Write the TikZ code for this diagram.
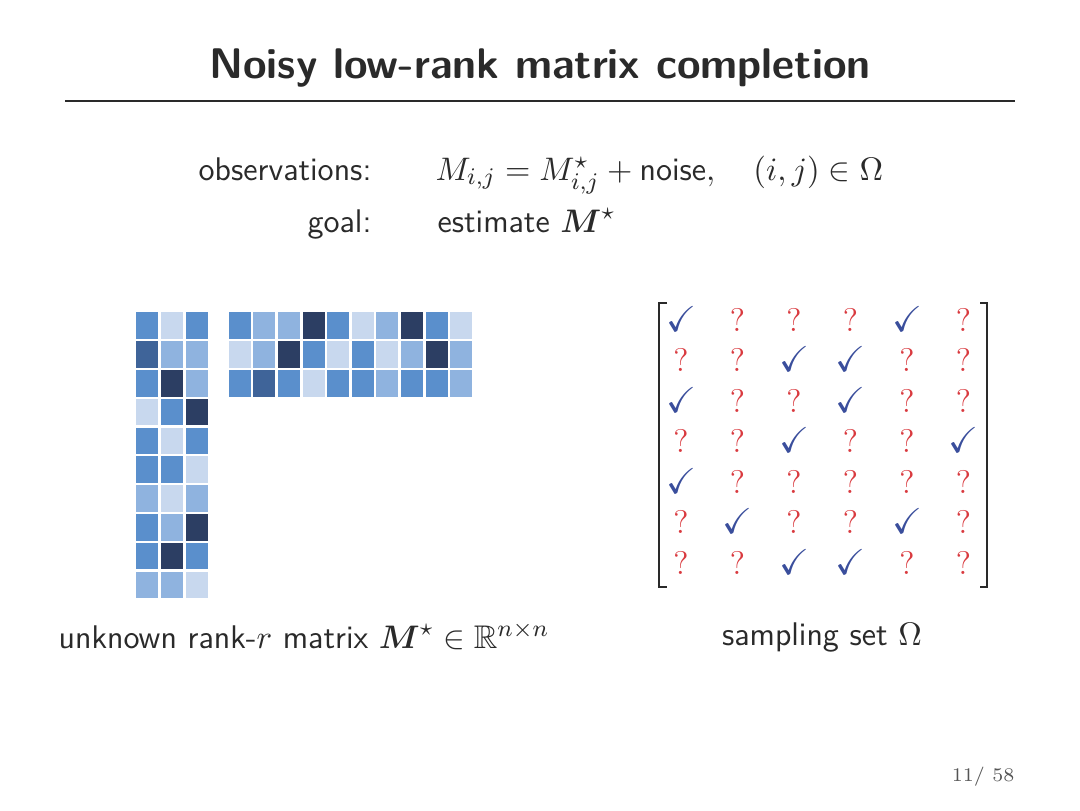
\documentclass[tikz,border=0pt]{standalone}
\usepackage{amsmath,amssymb}
\definecolor{cD}{HTML}{2C3E63}
\definecolor{cN}{HTML}{3F6499}
\definecolor{cM}{HTML}{5A8FCC}
\definecolor{cL}{HTML}{8FB3DF}
\definecolor{cV}{HTML}{C8D8EE}
\definecolor{chk}{HTML}{3A4E9C}
\definecolor{qm}{HTML}{D93A3F}
\definecolor{txt}{HTML}{2A2A2A}
\newcommand{\Cmk}{\textcolor{chk}{\scalebox{1.1}{$\checkmark$}}}
\newcommand{\Qmk}{\textcolor{qm}{\rmfamily ?}}
\tikzset{
  body/.style={font=\fontsize{11}{13}\selectfont\sffamily, text=txt, inner sep=0pt},
  cellmark/.style={font=\fontsize{11}{13}\selectfont, inner sep=0pt, anchor=base},
  bracket/.style={draw=txt, line width=0.75pt},
  rule/.style={draw=txt, line width=0.4pt}
}
\begin{document}
\begin{tikzpicture}[x=0.3359pt, y=-0.3359pt]
\useasboundingbox (0,0) rectangle (1080,810);
% title
\node[body, font=\fontsize{14.4}{17}\selectfont\sffamily\bfseries] (title) at (540,68) {Noisy low-rank matrix completion};
\coordinate (ruleL) at (65,101);
\coordinate (ruleR) at (1015,101);
\draw[rule] (ruleL) -- (ruleR);
% text lines
\node[body, anchor=base east] (obs) at (372,180) {observations:};
\node[body, anchor=base west] (obsm) at (435,180) {$M_{i,j} = M^\star_{i,j} + \text{noise}, \quad (i,j)\in\Omega$};
\node[body, anchor=base east] (goal) at (372,232) {goal:};
\node[body, anchor=base west] (goalm) at (437,232) {estimate $\boldsymbol{M}^\star$};
% left tall factor
\foreach \row [count=\r from 0] in {{cM,cV,cM},{cN,cL,cL},{cM,cD,cL},{cV,cM,cD},{cM,cV,cM},{cM,cM,cV},{cL,cV,cL},{cM,cL,cD},{cM,cD,cM},{cL,cL,cV}}{
  \foreach \col [count=\k from 0] in \row {
    \fill[\col] (136+\k*25, 312.3+\r*28.8) rectangle ++(22,26.7);
  }
}
% top wide factor
\foreach \row [count=\r from 0] in {{cM,cL,cL,cD,cM,cV,cL,cD,cM,cV},{cV,cL,cD,cM,cV,cM,cV,cL,cD,cL},{cM,cN,cM,cV,cM,cM,cL,cM,cM,cL}}{
  \foreach \col [count=\k from 0] in \row {
    \fill[\col] (228.7+\k*24.6, 312.3+\r*28.8) rectangle ++(22,26.7);
  }
}
% sampling set
\foreach \row [count=\r from 0] in {{\Cmk,\Qmk,\Qmk,\Qmk,\Cmk,\Qmk},{\Qmk,\Qmk,\Cmk,\Cmk,\Qmk,\Qmk},{\Cmk,\Qmk,\Qmk,\Cmk,\Qmk,\Qmk},{\Qmk,\Qmk,\Cmk,\Qmk,\Qmk,\Cmk},{\Cmk,\Qmk,\Qmk,\Qmk,\Qmk,\Qmk},{\Qmk,\Cmk,\Qmk,\Qmk,\Cmk,\Qmk},{\Qmk,\Qmk,\Cmk,\Cmk,\Qmk,\Qmk}}{
  \foreach \s [count=\k from 0] in \row {
    \node[cellmark] (s\r\k) at (681+\k*56.5, 331+\r*40.5) {\s};
  }
}
\draw[bracket] (667,303) -- (659,303) -- (659,587) -- (667,587);
\draw[bracket] (980,303) -- (987,303) -- (987,587) -- (980,587);
% captions
\node[body, anchor=base] (capL) at (304,648) {unknown rank-$r$ matrix $\boldsymbol{M}^\star\in\mathbb{R}^{n\times n}$};
\node[body, anchor=base] (capR) at (822,645) {sampling set $\Omega$};
% page number
\node[body, font=\fontsize{6.5}{8}\selectfont\rmfamily, anchor=base east, text=txt!80] (page) at (1015,781) {11/ 58};
\end{tikzpicture}
\end{document}
